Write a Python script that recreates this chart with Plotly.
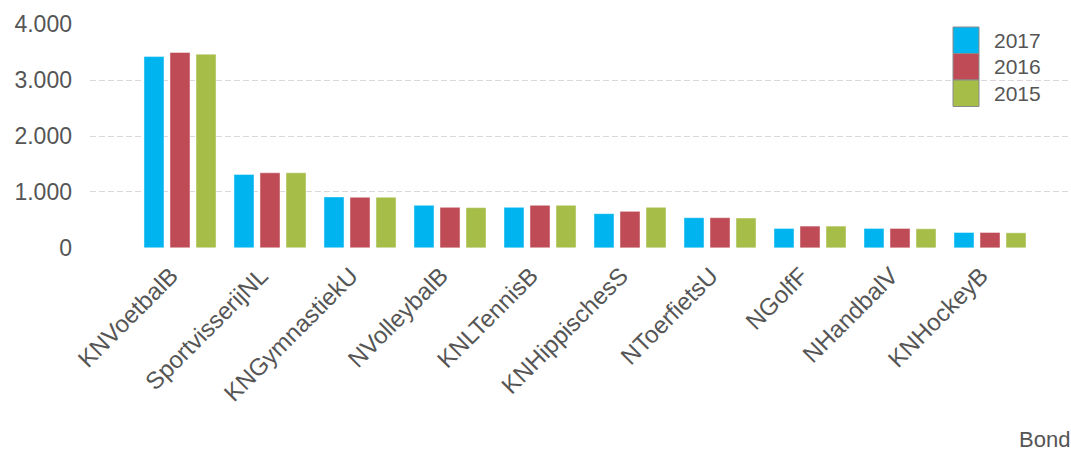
import plotly.graph_objects as go

categories = ["KNVoetbalB", "SportvisserijNL", "KNGymnastiekU", "NVolleybalB", "KNLTennisB",
              "KNHippischesS", "NToerfietsU", "NGolfF", "NHandbalV", "KNHockeyB"]
series_names = ["2017", "2016", "2015"]
values_2017 = [3420, 1313, 910, 760, 725, 611, 539, 347, 347, 275]
values_2016 = [3494, 1342, 905, 725, 760, 653, 539, 389, 347, 275]
values_2015 = [3464, 1342, 905, 719, 760, 725, 533, 389, 341, 269]
y_ticks = [0, 1000, 2000, 3000, 4000]
axis_title = "Bond"

colors = ["#00B4F0", "#BE4B55", "#A6BD48"]
all_values = [values_2017, values_2016, values_2015]

W, H = 1071, 451
ML, MR, MT, MB = 90, 2, 24, 203
PW = W - ML - MR
PH = H - MT - MB

def px_x(px):
    return (px - ML) / PW

def px_y(py):
    return (H - MB - py) / PH

fig = go.Figure()
for name, vals, col in zip(series_names, all_values, colors):
    fig.add_trace(go.Bar(
        x=categories, y=vals, name=name,
        marker=dict(color=col, line=dict(color="rgba(255,255,255,0.45)", width=1)),
        showlegend=False,
    ))

text_col = "#555555"
font_family = "Liberation Sans, Arial, sans-serif"
fig.update_layout(
    width=W, height=H,
    margin=dict(l=ML, r=MR, t=MT, b=MB, pad=0),
    paper_bgcolor="white", plot_bgcolor="white",
    barmode="group", bargap=0.133, bargroupgap=0.23,
    separators=",.",
    font=dict(family=font_family, size=22, color=text_col),
)
fig.update_xaxes(
    range=[-1.0, 9.0 + (W - MR - 990) / 90.0],
    tickangle=-45, tickfont=dict(size=24, color=text_col),
    showgrid=False, showline=False, zeroline=False, ticks="",
    ticklabelstandoff=8, ticklabelshift=-9,
)
fig.update_yaxes(
    range=[-3, 4003], tickvals=y_ticks, tickformat=",d",
    tickfont=dict(size=23, color=text_col),
    showgrid=True, gridcolor="#ddd6dd", gridwidth=1, griddash="6px,3px",
    zeroline=False, showline=False, ticks="", ticklabelstandoff=17,
)

# manual legend (swatches stacked like reference)
sw_x0, sw_x1 = 953, 979
box_tops = [27, 53.5, 80]
box_h = 26.5
for name, col, top in zip(series_names, colors, box_tops):
    fig.add_shape(type="rect", xref="paper", yref="paper",
                  x0=px_x(sw_x0), x1=px_x(sw_x1),
                  y0=px_y(top + box_h), y1=px_y(top),
                  fillcolor=col, line=dict(color="#8a8a8a", width=1))
    fig.add_annotation(xref="paper", yref="paper", x=px_x(992), y=px_y(top + box_h / 2),
                       text=name, showarrow=False, xanchor="left", yanchor="middle",
                       font=dict(size=21, color=text_col))

fig.add_annotation(xref="paper", yref="paper", x=px_x(1017), y=px_y(439),
                   text=axis_title, showarrow=False, xanchor="left", yanchor="middle",
                   font=dict(size=22, color=text_col))

fig.write_html("out.html", config={"displayModeBar": False},
               post_script="document.body.style.margin='0';document.body.style.overflow='hidden';")
